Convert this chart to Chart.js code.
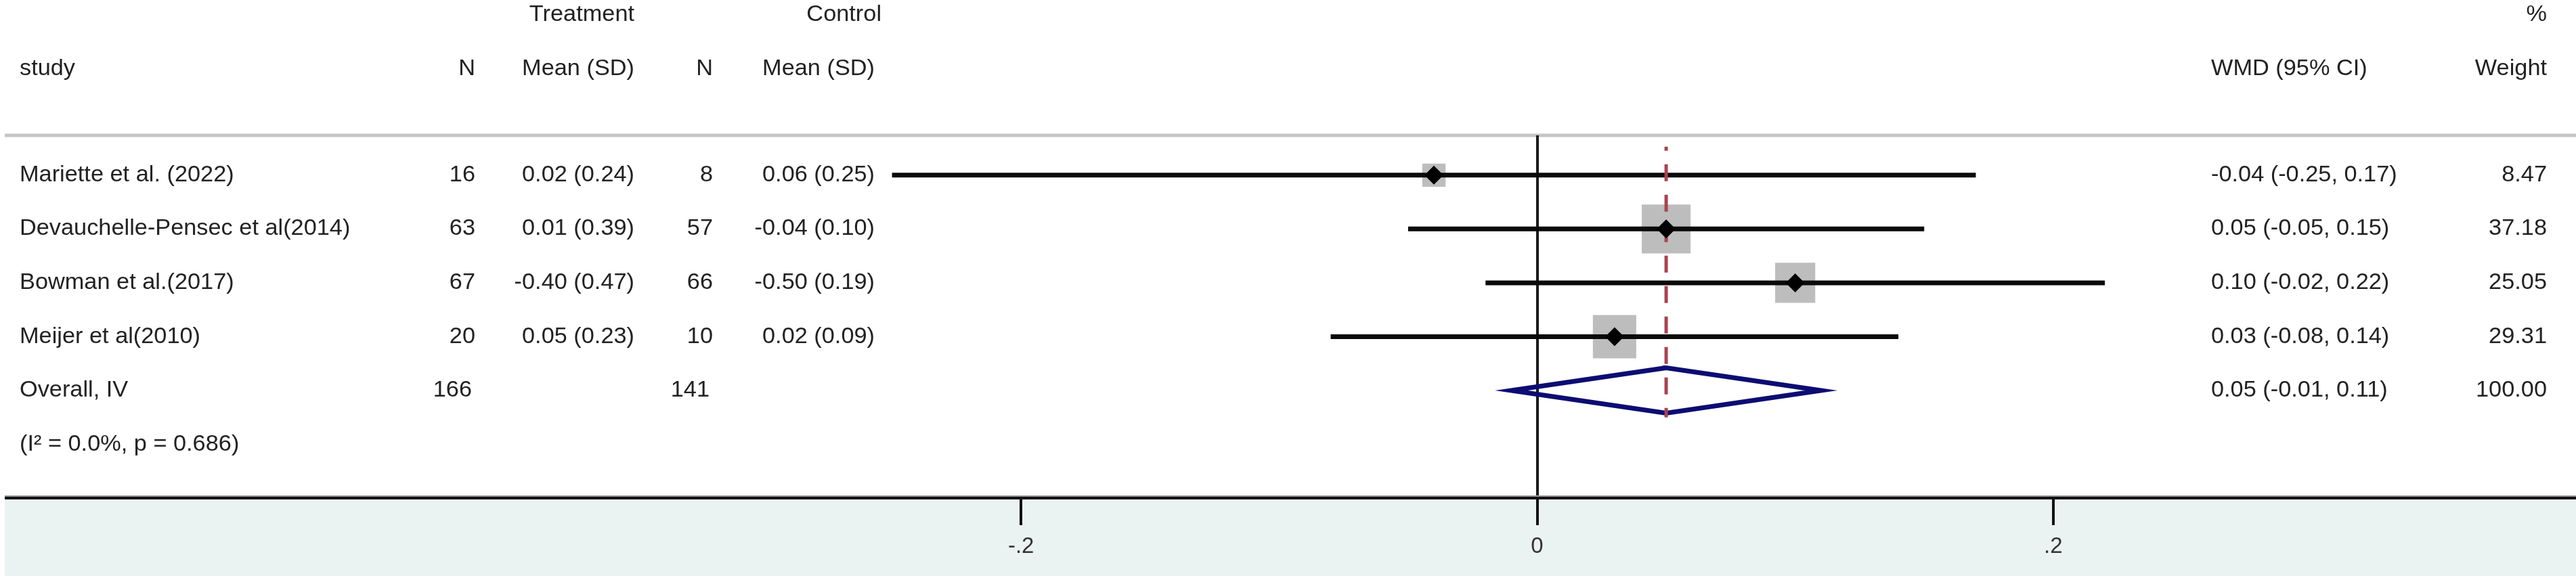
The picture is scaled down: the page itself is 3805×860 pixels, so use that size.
<!DOCTYPE html>
<html>
<head>
<meta charset="utf-8">
<script src="https://cdn.jsdelivr.net/npm/chart.js@4.4.1/dist/chart.umd.min.js"></script>
<style>
  html, body { margin: 0; padding: 0; background: #fff; }
  canvas { display: block; }
</style>
</head>
<body>
<canvas id="forest" width="3805" height="860"></canvas>
<script>
// studies, top to bottom
const studies = ["Mariette et al. (2022)", "Devauchelle-Pensec et al(2014)", "Bowman et al.(2017)", "Meijer et al(2010)"];
const nTreat = [16, 63, 67, 20];
const meanTreat = [0.02, 0.01, -0.40, 0.05];
const sdTreat = [0.24, 0.39, 0.47, 0.23];
const nCtrl = [8, 57, 66, 10];
const meanCtrl = [0.06, -0.04, -0.50, 0.02];
const sdCtrl = [0.25, 0.10, 0.19, 0.09];
const wmd = [-0.04, 0.05, 0.10, 0.03];
const ciLow = [-0.25, -0.05, -0.02, -0.08];
const ciHigh = [0.17, 0.15, 0.22, 0.14];
const weights = [8.47, 37.18, 25.05, 29.31];

// pooled estimate
const overallLabel = "Overall, IV";
const overallN = [166, 141];
const overallEst = [0.05, -0.01, 0.11]; // est, low, high
const overallWeight = 100.00;
const hetText = "(I² = 0.0%, p = 0.686)";

// x axis
const tickVals = [-0.2, 0, 0.2];
const tickLabels = ["-.2", "0", ".2"];

const OVERALL_ROW = studies.length;
const HET_ROW = studies.length + 1;

// text helper, stata text is a touch wider than arial
const FONT = '33px "Liberation Sans", Arial, sans-serif';
const STRETCH = 1.04;
function txt(ctx, s, x, y, align) {
  ctx.save();
  ctx.font = FONT;
  ctx.fillStyle = "#222";
  ctx.textAlign = align || "left";
  ctx.textBaseline = "middle";
  ctx.scale(STRETCH, 1);
  ctx.fillText(s, x / STRETCH, y);
  ctx.restore();
}
const f2 = v => v.toFixed(2);

const bgPlugin = {
  id: "bg",
  beforeDraw(chart) {
    const ctx = chart.ctx;
    const area = chart.chartArea;
    ctx.save();
    ctx.fillStyle = "#fff";
    ctx.fillRect(0, 0, chart.width, chart.height);
    // light panel under the axis
    ctx.fillStyle = "#eaf2f2";
    ctx.fillRect(7, area.bottom, chart.width - 7, 851 - area.bottom);
    // header rule
    ctx.strokeStyle = "#c4c4c4";
    ctx.lineWidth = 5;
    ctx.beginPath();
    ctx.moveTo(7, area.top);
    ctx.lineTo(chart.width, area.top);
    ctx.stroke();
    ctx.restore();
  },
  afterDraw(chart) {
    const ctx = chart.ctx;
    const area = chart.chartArea;
    const ys = chart.scales.y;
    // axis line across the whole graph
    ctx.save();
    ctx.fillStyle = "#9a9a9a";
    ctx.fillRect(7, area.bottom - 4, chart.width - 7, 2);
    ctx.fillStyle = "#111";
    ctx.fillRect(7, area.bottom - 2, chart.width - 7, 4);
    ctx.restore();

    // table text
    const cStudy = 29, cNT = 702, cMT = 937, cNC = 1053, cMC = 1292, cWmd = 3266, cW = 3762;
    txt(ctx, "Treatment", cMT, 22, "right");
    txt(ctx, "Control", 1302, 22, "right");
    txt(ctx, "%", cW, 22, "right");
    txt(ctx, "study", cStudy, 102);
    txt(ctx, "N", cNT, 102, "right");
    txt(ctx, "Mean (SD)", cMT, 102, "right");
    txt(ctx, "N", cNC, 102, "right");
    txt(ctx, "Mean (SD)", cMC, 102, "right");
    txt(ctx, "WMD (95% CI)", cWmd, 102);
    txt(ctx, "Weight", cW, 102, "right");

    studies.forEach((s, i) => {
      const y = ys.getPixelForValue(i);
      txt(ctx, s, cStudy, y);
      txt(ctx, String(nTreat[i]), cNT, y, "right");
      txt(ctx, f2(meanTreat[i]) + " (" + f2(sdTreat[i]) + ")", cMT, y, "right");
      txt(ctx, String(nCtrl[i]), cNC, y, "right");
      txt(ctx, f2(meanCtrl[i]) + " (" + f2(sdCtrl[i]) + ")", cMC, y, "right");
      txt(ctx, f2(wmd[i]) + " (" + f2(ciLow[i]) + ", " + f2(ciHigh[i]) + ")", cWmd, y);
      txt(ctx, f2(weights[i]), cW, y, "right");
    });
    const yo = ys.getPixelForValue(OVERALL_ROW);
    txt(ctx, overallLabel, cStudy, yo);
    txt(ctx, String(overallN[0]), cNT - 5, yo, "right");
    txt(ctx, String(overallN[1]), cNC - 5, yo, "right");
    txt(ctx, f2(overallEst[0]) + " (" + f2(overallEst[1]) + ", " + f2(overallEst[2]) + ")", cWmd, yo);
    txt(ctx, f2(overallWeight), cW, yo, "right");
    txt(ctx, hetText, cStudy, ys.getPixelForValue(HET_ROW));
  }
};

// boxes: area proportional to weight
const maxW = Math.max(...weights);
const boxRadius = weights.map(w => 51 * Math.sqrt(w / maxW));

const ciSets = studies.map((s, i) => ({
  data: [{ x: ciLow[i], y: i }, { x: ciHigh[i], y: i }],
  showLine: true,
  borderColor: "#0a0a0a",
  borderWidth: 7,
  borderCapStyle: "butt",
  pointRadius: 0,
  order: 2
}));

const dH = 0.42;
const ctx = document.getElementById("forest").getContext("2d");
new Chart(ctx, {
  type: "scatter",
  data: {
    datasets: [
      {
        // point estimates
        data: wmd.map((v, i) => ({ x: v, y: i })),
        pointStyle: "rectRot",
        pointRadius: 14,
        backgroundColor: "#000",
        borderWidth: 0,
        order: 0
      },
      {
        // overall effect line
        data: [{ x: overallEst[0], y: -0.53 }, { x: overallEst[0], y: OVERALL_ROW + 0.5 }],
        showLine: true,
        borderColor: "#a8444e",
        borderWidth: 5,
        borderDash: [25, 20],
        borderDashOffset: 19,
        pointRadius: 0,
        order: 1
      },
      ...ciSets,
      {
        // overall diamond
        data: [
          { x: overallEst[1], y: OVERALL_ROW },
          { x: overallEst[0], y: OVERALL_ROW - dH },
          { x: overallEst[2], y: OVERALL_ROW },
          { x: overallEst[0], y: OVERALL_ROW + dH },
          { x: overallEst[1], y: OVERALL_ROW },
          { x: overallEst[0], y: OVERALL_ROW - dH }
        ],
        showLine: true,
        borderColor: "#0c0c72",
        borderWidth: 7,
        borderJoinStyle: "miter",
        pointRadius: 0,
        order: 2
      },
      {
        // weight boxes
        data: wmd.map((v, i) => ({ x: v, y: i })),
        pointStyle: "rect",
        pointRadius: boxRadius,
        backgroundColor: "#bdbdbd",
        borderWidth: 0,
        order: 3
      }
    ]
  },
  options: {
    responsive: false,
    devicePixelRatio: 1,
    animation: false,
    events: [],
    layout: { padding: { left: 1127, right: 391, top: 200, bottom: 0 } },
    plugins: { legend: { display: false }, tooltip: { enabled: false } },
    scales: {
      x: {
        type: "linear",
        min: -0.3,
        max: 0.3,
        afterBuildTicks: scale => { scale.ticks = tickVals.map(v => ({ value: v })); },
        afterFit: scale => { scale.height = 124; },
        ticks: {
          callback: (v) => tickLabels[tickVals.indexOf(v)],
          color: "#333",
          font: { family: "'Liberation Sans', Arial, sans-serif", size: 33 },
          padding: 12,
          maxRotation: 0
        },
        grid: {
          drawOnChartArea: true,
          color: c => (c.tick && c.tick.value === 0 ? "#1a1a1a" : "rgba(0,0,0,0)"),
          lineWidth: 4,
          drawTicks: true,
          tickLength: 40,
          tickWidth: 4,
          tickColor: "#111"
        },
        border: { display: false }
      },
      y: {
        type: "linear",
        reverse: true,
        min: -0.74,
        max: 6,
        display: false
      }
    }
  },
  plugins: [bgPlugin]
});
</script>
</body>
</html>
